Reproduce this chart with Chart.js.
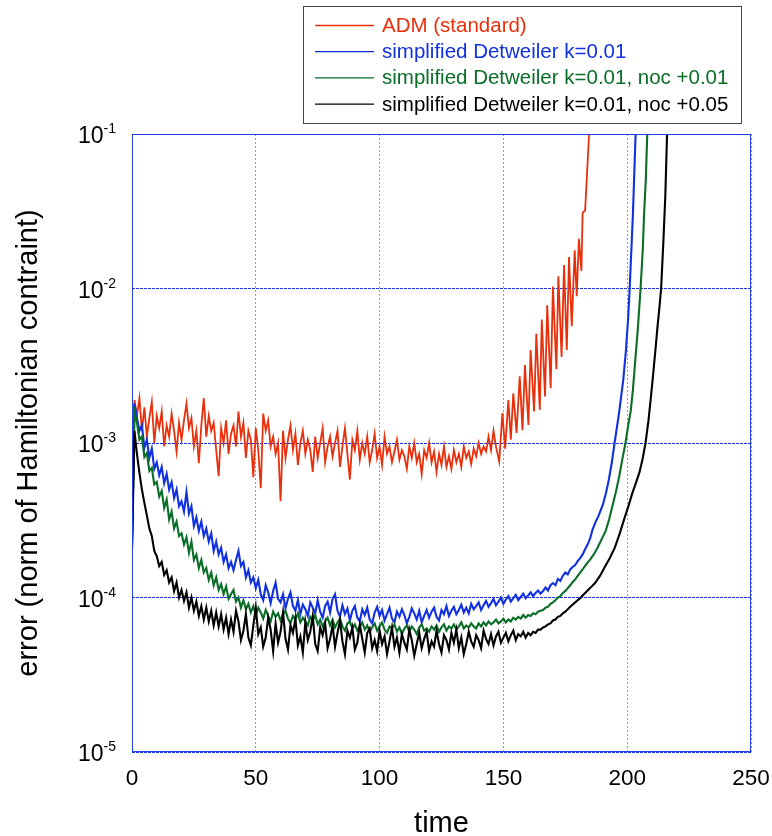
<!DOCTYPE html>
<html>
<head>
<meta charset="utf-8">
<script src="https://cdn.jsdelivr.net/npm/chart.js@4.4.1/dist/chart.umd.min.js"></script>
<style>
  html, body { margin: 0; padding: 0; background: #fff; }
  #myCanvas { display: block; }
</style>
</head>
<body>
<canvas id="myCanvas" width="772" height="836"></canvas>
<script>
// noisy parts are sampled every SAMPLE_DT time units starting at t = 0,
// the blow-up at the end is given as explicit (time, value) pairs
const SAMPLE_DT = 1;

const labels = [
  "ADM (standard)",
  "simplified Detweiler k=0.01",
  "simplified Detweiler k=0.01, noc +0.01",
  "simplified Detweiler k=0.01, noc +0.05",
];
const colors = ["#e8300c", "#1130e0", "#0a6e28", "#000000"];

const xTicks = [0, 50, 100, 150, 200, 250];
const yTicks = [1e-5, 1e-4, 1e-3, 1e-2, 1e-1];
const yTickExp = ["-5", "-4", "-3", "-2", "-1"];

const admNoisy = [
  2.1e-4, 1.9e-3, 1.5e-3, 1.95e-3, 1.2e-3, 1.7e-3, 1.1e-3, 1.45e-3, 1.85e-3, 1.0e-3,
  1.5e-3, 1.25e-3, 1.6e-3, 9.5e-4, 1.3e-3, 1.1e-3, 1.55e-3, 1.2e-3, 8.8e-4, 1.35e-3,
  1.05e-3, 1.4e-3, 1.8e-3, 1.25e-3, 1.45e-3, 9.5e-4, 1.2e-3, 7.4e-4, 1.3e-3, 1.95e-3,
  1.1e-3, 1.5e-3, 1.2e-3, 1.35e-3, 9e-4, 6.1e-4, 1.25e-3, 1.0e-3, 1.4e-3, 8.5e-4,
  1.15e-3, 1.3e-3, 9.5e-4, 1.6e-3, 1.1e-3, 1.35e-3, 8e-4, 1.2e-3, 1.05e-3, 6e-4,
  1.25e-3, 9e-4, 5.1e-4, 1.55e-3, 1.2e-3, 1.4e-3, 9.5e-4, 1.1e-3, 8.5e-4, 1.0e-3,
  4.2e-4, 1.2e-3, 8e-4, 1.05e-3, 1.3e-3, 9e-4, 1.15e-3, 7.2e-4, 1.0e-3, 1.2e-3,
  8.5e-4, 1.05e-3, 9e-4, 6.5e-4, 1.1e-3, 8e-4, 1.0e-3, 1.25e-3, 7.5e-4, 9.5e-4,
  1.1e-3, 8.2e-4, 1.0e-3, 1.2e-3, 7e-4, 9.5e-4, 1.25e-3, 8.5e-4, 5.8e-4, 1.05e-3,
  9e-4, 1.2e-3, 7.8e-4, 1.0e-3, 8.5e-4, 1.1e-3, 7.5e-4, 9e-4, 1.15e-3, 8e-4,
  9.5e-4, 7.2e-4, 1.1e-3, 8.5e-4, 9.5e-4, 7.5e-4, 8.8e-4, 1.05e-3, 7.8e-4, 9e-4,
  8.2e-4, 6.8e-4, 9.5e-4, 8e-4, 1.0e-3, 7.5e-4, 8.5e-4, 6.3e-4, 9e-4, 8e-4,
  1.0e-3, 7.5e-4, 8.8e-4, 6.5e-4, 8.5e-4, 7.2e-4, 9.5e-4, 7e-4, 8.2e-4, 6.8e-4,
  9e-4, 7.5e-4, 8.5e-4, 7e-4, 9.5e-4, 8e-4, 8.8e-4, 7.3e-4, 9.2e-4, 8.2e-4,
  1.0e-3, 8.5e-4, 9.5e-4, 8.8e-4, 1.1e-3, 9e-4, 1.2e-3, 9.5e-4,
];
const admTailT = [
  148.3, 149.6, 150.7, 152.0, 153.0, 154.0, 155.3, 156.6, 157.7, 158.7,
  160.1, 161.0, 162.4, 163.3, 164.7, 165.5, 166.8, 167.7, 169.1, 170.0,
  171.4, 172.2, 173.5, 174.5, 175.6, 176.5, 177.6, 178.8, 179.6, 180.5,
  181.5, 182.0, 183.0, 184.6,
];
const admTailV = [
  7.6e-4, 1.56e-3, 9.2e-4, 1.9e-3, 1.05e-3, 2.1e-3, 1.16e-3, 2.7e-3, 1.21e-3, 3.2e-3,
  1.31e-3, 4.0e-3, 1.6e-3, 5.1e-3, 1.64e-3, 6.3e-3, 2.0e-3, 7.8e-3, 2.26e-3, 1.03e-2,
  3.0e-3, 1.2e-2, 3.6e-3, 1.42e-2, 4.0e-3, 1.6e-2, 5.7e-3, 1.77e-2, 8.9e-3, 2.1e-2,
  1.3e-2, 3.1e-2, 3.2e-2, 1.0e-1,
];

const detNoisy = [
  2.1e-4, 1.8e-3, 1.45e-3, 1.2e-3, 1.3e-3, 9.3e-4, 1.05e-3, 8e-4, 9.2e-4, 6.8e-4,
  7.5e-4, 6.2e-4, 7e-4, 5.5e-4, 6.3e-4, 5e-4, 5.6e-4, 4.4e-4, 5e-4, 3.9e-4,
  4.2e-4, 3.6e-4, 4.8e-4, 3.5e-4, 3.9e-4, 2.9e-4, 3.3e-4, 2.7e-4, 3.1e-4, 2.5e-4,
  2.8e-4, 2.3e-4, 2.6e-4, 2.0e-4, 2.3e-4, 1.9e-4, 2.1e-4, 1.7e-4, 1.9e-4, 1.55e-4,
  1.7e-4, 1.5e-4, 1.75e-4, 2.0e-4, 1.6e-4, 1.7e-4, 1.35e-4, 1.5e-4, 1.25e-4, 1.35e-4,
  1.15e-4, 1.3e-4, 1.05e-4, 9.6e-5, 1.2e-4, 1.08e-4, 9.2e-5, 1.1e-4, 1.25e-4, 9.8e-5,
  9.3e-5, 1.05e-4, 8.5e-5, 9.8e-5, 1.08e-4, 8.8e-5, 8.2e-5, 9.6e-5, 7.8e-5, 9.0e-5,
  8.4e-5, 7.6e-5, 9.3e-5, 8.6e-5, 7.9e-5, 9.6e-5, 8.1e-5, 7.4e-5, 8.8e-5, 9.4e-5,
  8.0e-5, 9.8e-5, 1.05e-4, 8.2e-5, 7.5e-5, 8.9e-5, 7.8e-5, 8.5e-5, 7.1e-5, 8.2e-5,
  8.8e-5, 7.4e-5, 7.0e-5, 8.4e-5, 7.7e-5, 8.6e-5, 7.2e-5, 6.8e-5, 8.0e-5, 8.7e-5,
  7.6e-5, 8.3e-5, 7.1e-5, 7.8e-5, 8.6e-5, 7.3e-5, 6.9e-5, 8.1e-5, 7.5e-5, 8.4e-5,
  7.7e-5, 6.8e-5, 7.5e-5, 8.5e-5, 7.9e-5, 7.2e-5, 8.2e-5, 6.9e-5, 7.6e-5, 8.3e-5,
  7.4e-5, 8.1e-5, 8.6e-5, 7.5e-5, 7.1e-5, 8.3e-5, 7.8e-5, 8.8e-5, 7.6e-5, 8.2e-5,
  8.7e-5, 7.8e-5, 8.3e-5, 9.0e-5, 8.0e-5, 8.6e-5, 7.9e-5, 9.1e-5, 8.4e-5, 8.8e-5,
  9.3e-5, 8.3e-5, 8.9e-5, 9.5e-5, 8.7e-5, 9.2e-5, 9.8e-5, 8.9e-5, 9.4e-5, 1.0e-4,
  9.1e-5, 9.7e-5, 1.02e-4, 9.4e-5, 9.9e-5, 1.04e-4, 9.6e-5, 1.01e-4, 1.06e-4, 9.9e-5,
  1.03e-4, 1.08e-4, 1.02e-4, 1.07e-4, 1.11e-4, 1.06e-4, 1.1e-4, 1.16e-4, 1.11e-4, 1.2e-4,
  1.24e-4, 1.2e-4, 1.32e-4, 1.28e-4, 1.38e-4, 1.45e-4, 1.41e-4, 1.52e-4, 1.58e-4, 1.62e-4,
  1.72e-4, 1.8e-4, 1.9e-4, 2.05e-4, 2.2e-4, 2.4e-4,
];
const detTailT = [186, 187.3, 188.5, 190.2, 191.5, 192.6, 193.8, 194.9, 196.7, 198.4, 199.5, 200.4, 201, 202.3, 203.4];
const detTailV = [2.75e-4, 3.1e-4, 3.4e-4, 4.0e-4, 4.8e-4, 5.8e-4, 7.5e-4, 1.0e-3, 1.56e-3, 2.55e-3, 4e-3, 6.5e-3, 1e-2, 3e-2, 1e-1];

const noc01Noisy = [
  2.1e-4, 1.6e-3, 1.35e-3, 1.05e-3, 1.1e-3, 8.1e-4, 8.6e-4, 6.6e-4, 6.9e-4, 5.4e-4,
  5.6e-4, 4.5e-4, 4.9e-4, 3.8e-4, 4.3e-4, 3.2e-4, 3.6e-4, 2.8e-4, 3.1e-4, 2.5e-4,
  2.6e-4, 2.2e-4, 2.45e-4, 1.95e-4, 2.3e-4, 1.75e-4, 1.9e-4, 1.55e-4, 1.75e-4, 1.45e-4,
  1.55e-4, 1.3e-4, 1.45e-4, 1.2e-4, 1.35e-4, 1.12e-4, 1.22e-4, 1.05e-4, 1.18e-4, 9.8e-5,
  1.05e-4, 1.12e-4, 9.4e-5, 1.0e-4, 8.6e-5, 9.6e-5, 8.4e-5, 9.1e-5, 8e-5, 8.8e-5,
  7.7e-5, 8.6e-5, 8.0e-5, 7.3e-5, 8.3e-5, 7.6e-5, 7.0e-5, 8.1e-5, 7.5e-5, 7.9e-5,
  7.1e-5, 7.8e-5, 8.2e-5, 7.3e-5, 6.8e-5, 7.6e-5, 7.2e-5, 7.9e-5, 6.9e-5, 7.4e-5,
  7.0e-5, 6.6e-5, 7.5e-5, 7.1e-5, 7.7e-5, 6.7e-5, 7.2e-5, 6.5e-5, 7.0e-5, 7.4e-5,
  6.6e-5, 7.2e-5, 6.4e-5, 6.9e-5, 7.3e-5, 6.5e-5, 6.1e-5, 6.8e-5, 7.0e-5, 6.3e-5,
  6.7e-5, 6.1e-5, 6.5e-5, 6.9e-5, 6.2e-5, 6.6e-5, 6.0e-5, 6.4e-5, 6.8e-5, 6.1e-5,
  6.5e-5, 6.9e-5, 6.2e-5, 5.9e-5, 6.5e-5, 6.3e-5, 6.7e-5, 6.0e-5, 6.4e-5, 5.8e-5,
  6.3e-5, 6.6e-5, 6.0e-5, 6.5e-5, 6.2e-5, 5.8e-5, 6.4e-5, 6.7e-5, 6.1e-5, 6.3e-5,
  6.0e-5, 6.5e-5, 6.2e-5, 6.6e-5, 6.0e-5, 6.4e-5, 6.7e-5, 6.1e-5, 6.5e-5, 6.3e-5,
  6.7e-5, 6.2e-5, 6.5e-5, 6.9e-5, 6.3e-5, 6.6e-5, 6.4e-5, 6.8e-5, 6.5e-5, 6.3e-5,
  6.8e-5, 6.5e-5, 6.9e-5, 6.6e-5, 7.0e-5, 6.7e-5, 6.9e-5, 7.2e-5, 6.8e-5, 7.0e-5,
  7.3e-5, 6.9e-5, 7.2e-5, 7.0e-5, 7.4e-5, 7.2e-5, 7.5e-5, 7.3e-5, 7.7e-5, 7.4e-5,
  7.7e-5, 7.6e-5, 7.9e-5, 7.8e-5, 8.1e-5, 8.2e-5, 8.3e-5, 8.6e-5, 8.7e-5, 9.1e-5,
  9.3e-5, 9.6e-5, 1.0e-4, 1.02e-4, 1.07e-4, 1.1e-4, 1.15e-4, 1.2e-4, 1.26e-4, 1.31e-4,
  1.38e-4, 1.45e-4, 1.52e-4, 1.6e-4, 1.68e-4, 1.76e-4,
];
const noc01TailT = [186.5, 188, 189.5, 191.3, 192.7, 194, 195.4, 196.7, 198, 199.3, 200.4, 201.4, 202.3, 203.1, 204.3, 205.4, 206.3, 206.8, 207.5, 208.1];
const noc01TailV = [1.9e-4, 2.1e-4, 2.35e-4, 2.7e-4, 3.2e-4, 3.9e-4, 4.8e-4, 6e-4, 7.8e-4, 1e-3, 1.3e-3, 1.6e-3, 2.2e-3, 3.2e-3, 5.5e-3, 1e-2, 1.8e-2, 3e-2, 5e-2, 1e-1];

const noc05Noisy = [
  2.1e-4, 1.2e-3, 8.5e-4, 6.4e-4, 5e-4, 4.1e-4, 3.4e-4, 2.8e-4, 2.5e-4, 2.0e-4,
  1.85e-4, 1.6e-4, 1.7e-4, 1.4e-4, 1.5e-4, 1.25e-4, 1.35e-4, 1.1e-4, 1.25e-4, 1.0e-4,
  1.12e-4, 9.5e-5, 1.08e-4, 8.6e-5, 1.0e-4, 8.2e-5, 9.4e-5, 7.6e-5, 8.8e-5, 7.2e-5,
  8.6e-5, 7e-5, 8.2e-5, 6.6e-5, 8e-5, 6.5e-5, 7.8e-5, 6.2e-5, 7.4e-5, 5.8e-5,
  7.2e-5, 6.0e-5, 8.2e-5, 7.0e-5, 5.3e-5, 6.1e-5, 7.8e-5, 5.5e-5, 4.9e-5, 6.6e-5,
  8.6e-5, 5.8e-5, 6.4e-5, 4.8e-5, 5.5e-5, 7.4e-5, 6.2e-5, 4.5e-5, 6.8e-5, 5.1e-5,
  6.0e-5, 8.0e-5, 5.4e-5, 4.6e-5, 6.6e-5, 5.9e-5, 7.3e-5, 4.9e-5, 5.6e-5, 4.4e-5,
  6.9e-5, 5.3e-5, 6.0e-5, 7.6e-5, 5.0e-5, 4.5e-5, 6.4e-5, 5.7e-5, 6.8e-5, 4.7e-5,
  5.4e-5, 6.6e-5, 4.8e-5, 5.9e-5, 7.1e-5, 5.2e-5, 4.3e-5, 6.1e-5, 5.5e-5, 6.4e-5,
  4.6e-5, 5.1e-5, 6.7e-5, 5.4e-5, 4.4e-5, 5.9e-5, 6.3e-5, 4.7e-5, 5.3e-5, 4.5e-5,
  6.1e-5, 5.0e-5, 5.6e-5, 4.3e-5, 5.2e-5, 6.4e-5, 4.8e-5, 5.5e-5, 4.4e-5, 5.8e-5,
  5.1e-5, 4.6e-5, 6.2e-5, 5.3e-5, 4.2e-5, 5.0e-5, 5.9e-5, 4.7e-5, 5.4e-5, 6.0e-5,
  4.5e-5, 5.2e-5, 4.8e-5, 6.1e-5, 5.0e-5, 4.4e-5, 5.7e-5, 5.3e-5, 4.6e-5, 5.9e-5,
  5.1e-5, 6.2e-5, 4.7e-5, 5.5e-5, 4.3e-5, 5.0e-5, 6.0e-5, 5.2e-5, 4.8e-5, 5.7e-5,
  5.3e-5, 4.7e-5, 6.1e-5, 5.4e-5, 5.0e-5, 5.8e-5, 4.9e-5, 5.6e-5, 6.0e-5, 5.1e-5,
  5.5e-5, 5.9e-5, 5.2e-5, 5.7e-5, 6.1e-5, 5.3e-5, 5.8e-5, 5.6e-5, 6.0e-5, 5.5e-5,
  5.9e-5, 5.7e-5, 6.0e-5, 5.9e-5, 6.2e-5, 6.2e-5, 6.4e-5, 6.5e-5, 6.7e-5, 6.8e-5,
  7.1e-5, 7.2e-5, 7.5e-5, 7.6e-5, 7.9e-5, 8.1e-5, 8.4e-5, 8.7e-5, 9e-5, 9.3e-5,
  9.6e-5, 9.9e-5, 1.03e-4, 1.07e-4, 1.11e-4, 1.15e-4,
];
const noc05TailT = [187, 189, 191, 193, 195, 197, 199, 200.5, 202, 203.5, 205, 206.3, 207.4, 208.6, 209.6, 210.5, 211.4, 212.3, 213, 213.7, 214.6, 215.4, 216.1];
const noc05TailV = [1.24e-4, 1.38e-4, 1.58e-4, 1.8e-4, 2.1e-4, 2.6e-4, 3.3e-4, 3.9e-4, 4.7e-4, 5.5e-4, 6.5e-4, 8e-4, 1e-3, 1.4e-3, 2e-3, 2.8e-3, 4e-3, 5.8e-3, 7.5e-3, 1e-2, 2e-2, 4e-2, 1e-1];

const FONT = "'Liberation Sans', Arial, Helvetica, sans-serif";
const canvas = document.querySelector("#myCanvas");

function buildPoints(noisy, tailT, tailV) {
  const pts = noisy.map((v, i) => ({ x: i * SAMPLE_DT, y: v }));
  tailT.forEach((t, i) => pts.push({ x: t, y: tailV[i] }));
  return pts;
}

const seriesPoints = [
  buildPoints(admNoisy, admTailT, admTailV),
  buildPoints(detNoisy, detTailT, detTailV),
  buildPoints(noc01Noisy, noc01TailT, noc01TailV),
  buildPoints(noc05Noisy, noc05TailT, noc05TailV),
];

// frame, tick labels with superscripts, axis titles and the boxed legend
const decorPlugin = {
  id: "decor",
  afterDraw(chart) {
    const ctx = chart.ctx;
    const area = chart.chartArea;
    const xs = chart.scales.x;
    const ys = chart.scales.y;
    ctx.save();

    ctx.strokeStyle = "#2340e0";
    ctx.lineWidth = 1;
    ctx.strokeRect(area.left + 0.5, area.top + 0.5, area.right - area.left - 1, area.bottom - area.top - 1);

    ctx.fillStyle = "#000";
    ctx.textBaseline = "alphabetic";
    ctx.font = `22.5px ${FONT}`;
    ctx.textAlign = "center";
    xTicks.forEach((t) => {
      ctx.fillText(String(t), xs.getPixelForValue(t), area.bottom + 33);
    });

    yTicks.forEach((v, i) => {
      const y = ys.getPixelForValue(v);
      ctx.font = `14px ${FONT}`;
      ctx.textAlign = "left";
      const expW = ctx.measureText(yTickExp[i]).width;
      const expX = 116 - expW;
      ctx.fillText(yTickExp[i], expX, y - 1);
      ctx.font = `23px ${FONT}`;
      ctx.textAlign = "right";
      ctx.fillText("10", expX, y + 9);
    });

    ctx.font = `29px ${FONT}`;
    ctx.textAlign = "center";
    ctx.fillText("time", (area.left + area.right) / 2, 832);

    ctx.save();
    ctx.translate(37, (area.top + area.bottom) / 2);
    ctx.rotate(-Math.PI / 2);
    ctx.fillText("error (norm of Hamiltonian contraint)", 0, 0);
    ctx.restore();

    // legend box
    ctx.fillStyle = "#fff";
    ctx.fillRect(303, 6, 439, 118);
    ctx.strokeStyle = "#444";
    ctx.lineWidth = 1;
    ctx.strokeRect(303.5, 6.5, 438, 117);
    ctx.font = `20.5px ${FONT}`;
    ctx.textAlign = "left";
    labels.forEach((lab, i) => {
      const y = 25 + i * 26.2;
      ctx.strokeStyle = colors[i];
      ctx.lineWidth = 1.3;
      ctx.beginPath();
      ctx.moveTo(315, y + 0.5);
      ctx.lineTo(374, y + 0.5);
      ctx.stroke();
      ctx.fillStyle = colors[i];
      ctx.fillText(lab, 382, y + 7);
    });
    ctx.restore();
  },
};

const datasets = seriesPoints.map((pts, i) => ({
  label: labels[i],
  data: pts,
  borderColor: colors[i],
  backgroundColor: colors[i],
  borderWidth: i === 0 ? 1.8 : 2.1,
  pointRadius: 0,
  tension: 0,
  order: 3 - i,
}));

const config = {
  type: "line",
  data: { datasets: datasets },
  options: {
    responsive: false,
    animation: false,
    devicePixelRatio: 1,
    layout: { padding: { left: 132, right: 21, top: 134, bottom: 84 } },
    plugins: {
      legend: { display: false },
      tooltip: { enabled: false },
    },
    scales: {
      x: {
        type: "linear",
        min: 0,
        max: 250,
        afterBuildTicks: (scale) => {
          scale.ticks = xTicks.map((v) => ({ value: v }));
        },
        ticks: { display: false },
        grid: { color: "#7d95f2", lineWidth: 1, drawTicks: false },
        border: { display: false, dash: [2, 2] },
      },
      y: {
        type: "logarithmic",
        min: 1e-5,
        max: 1e-1,
        afterBuildTicks: (scale) => {
          scale.ticks = yTicks.map((v) => ({ value: v }));
        },
        ticks: { display: false },
        grid: { color: "#1a30e0", lineWidth: 1, drawTicks: false },
        border: { display: false, dash: [3, 1] },
      },
    },
  },
  plugins: [decorPlugin],
};

const myChart = new Chart(canvas, config);
</script>
</body>
</html>
